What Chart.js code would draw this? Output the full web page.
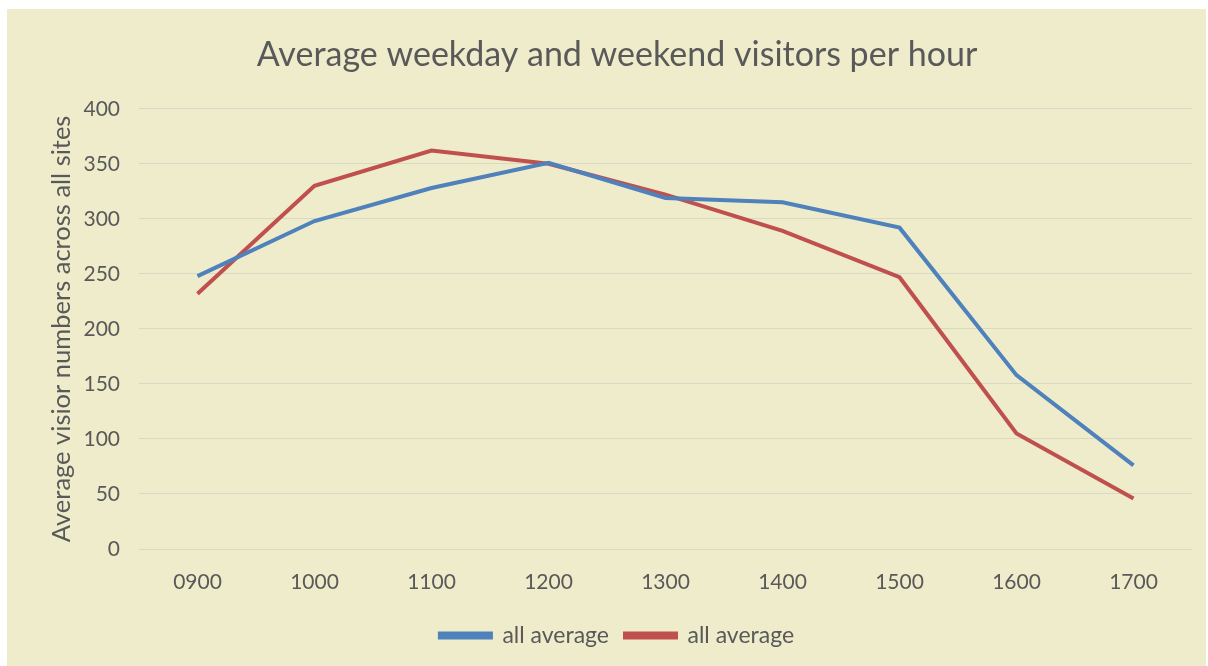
<!DOCTYPE html>
<html>
<head>
<meta charset="utf-8">
<script src="https://cdn.jsdelivr.net/npm/chart.js@4"></script>
<style>
    html, body { margin: 0; padding: 0; background: #ffffff; }
    #wrap {
        position: absolute;
        left: 7px;
        top: 9px;
        width: 1199px;
        height: 657px;
        background: #eeeccb;
    }
</style>
</head>
<body>
<div id="wrap"><canvas id="chart"></canvas></div>
<script>
// Hours of the day shown on the x axis
const hours = ['0900', '1000', '1100', '1200', '1300', '1400', '1500', '1600', '1700'];

// Average visitors per hour (weekday, weekend)
const weekdayAvg = [248, 298, 328, 351, 319, 315, 292, 158, 76];
const weekendAvg = [232, 330, 362, 350, 322, 289, 247, 105, 46];

const seriesLabels = ['all average', 'all average'];

const textColor = '#595959';
const fontFamily = 'Lato, "Open Sans", sans-serif';

const ctx = document.getElementById('chart').getContext('2d');

new Chart(ctx, {
    type: 'line',
    data: {
        labels: hours,
        datasets: [
            {
                label: seriesLabels[0],
                data: weekdayAvg,
                borderColor: '#4f81bd',
                backgroundColor: '#4f81bd',
                borderWidth: 4,
                pointRadius: 0,
                tension: 0
            },
            {
                label: seriesLabels[1],
                data: weekendAvg,
                borderColor: '#c0504d',
                backgroundColor: '#c0504d',
                borderWidth: 4,
                pointRadius: 0,
                tension: 0
            }
        ]
    },
    options: {
        responsive: true,
        maintainAspectRatio: false,
        animation: false,
        layout: {
            padding: { left: 35, right: 14, top: 0, bottom: 9 }
        },
        scales: {
            x: {
                offset: true,
                grid: { display: false, drawTicks: false },
                border: { display: false },
                ticks: {
                    color: textColor,
                    padding: 21,
                    font: { family: fontFamily, size: 21 }
                },
                afterFit: (scale) => { scale.height = 59; }
            },
            y: {
                min: 0,
                max: 400,
                ticks: {
                    stepSize: 50,
                    color: textColor,
                    padding: 19,
                    font: { family: fontFamily, size: 21 }
                },
                grid: { color: '#d9d8c4', lineWidth: 1, drawTicks: false },
                border: { display: false },
                title: {
                    display: true,
                    text: 'Average visior numbers across all sites',
                    color: textColor,
                    font: { family: fontFamily, size: 25.5 }
                },
                afterFit: (scale) => { scale.width = 97; }
            }
        },
        plugins: {
            title: {
                display: true,
                text: 'Average weekday and weekend visitors per hour',
                color: textColor,
                font: { family: fontFamily, size: 34, weight: 'normal' },
                padding: { top: 26, bottom: 33 }
            },
            legend: {
                position: 'bottom',
                labels: {
                    color: textColor,
                    boxWidth: 51,
                    boxHeight: 4,
                    padding: 16,
                    font: { family: fontFamily, size: 23 }
                }
            },
            tooltip: { enabled: false }
        }
    }
});
</script>
</body>
</html>
